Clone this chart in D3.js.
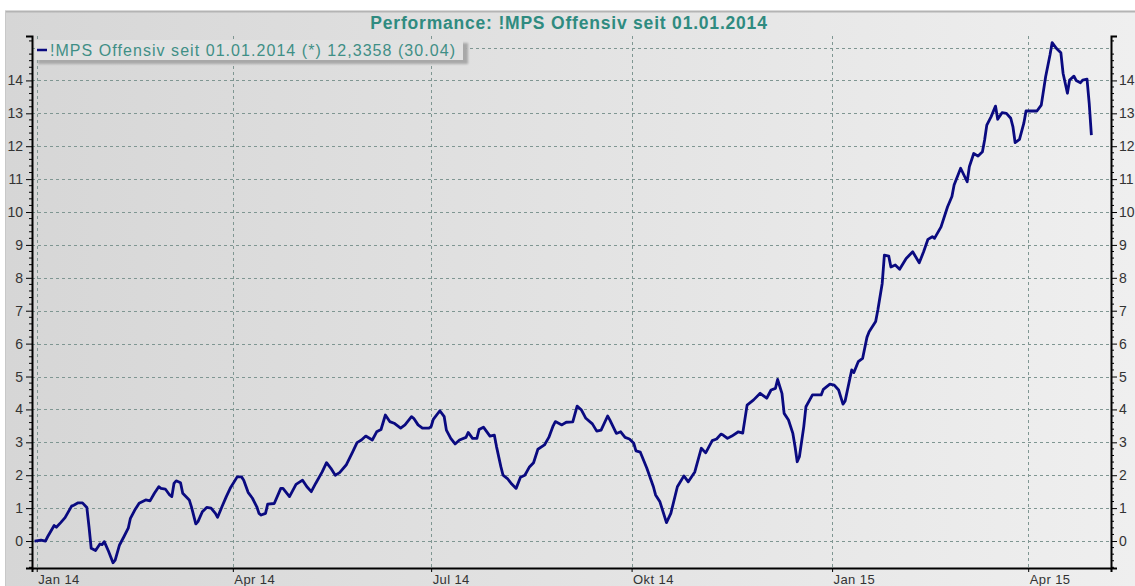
<!DOCTYPE html>
<html>
<head>
<meta charset="utf-8">
<script src="https://cdn.jsdelivr.net/npm/d3@7"></script>
<style>
  body { margin: 0; background: #fff; }
  svg { display: block; font-family: Arial, "Liberation Sans", sans-serif; }
</style>
</head>
<body>
<svg id="chart" width="1135" height="586"></svg>
<script>
// performance series (in %) since 01.01.2014
var dates = [
  '2013-12-31','2014-01-03','2014-01-05','2014-01-06','2014-01-09','2014-01-10','2014-01-12','2014-01-14',
  '2014-01-17','2014-01-18','2014-01-20','2014-01-22','2014-01-24','2014-01-25','2014-01-26','2014-01-28',
  '2014-01-30','2014-01-31','2014-02-01','2014-02-03','2014-02-05','2014-02-06','2014-02-08','2014-02-10',
  '2014-02-12','2014-02-13','2014-02-15','2014-02-17','2014-02-20','2014-02-22','2014-02-24','2014-02-26',
  '2014-02-27','2014-03-01','2014-03-03','2014-03-04','2014-03-05','2014-03-06','2014-03-08','2014-03-09',
  '2014-03-12','2014-03-13','2014-03-15','2014-03-16','2014-03-18','2014-03-20','2014-03-22','2014-03-24',
  '2014-03-25','2014-03-27','2014-03-29','2014-03-31','2014-04-03','2014-04-05','2014-04-06','2014-04-08',
  '2014-04-10','2014-04-12','2014-04-13','2014-04-14','2014-04-16','2014-04-17','2014-04-20','2014-04-23',
  '2014-04-24','2014-04-27','2014-04-30','2014-05-03','2014-05-05','2014-05-07','2014-05-09','2014-05-12',
  '2014-05-14','2014-05-16','2014-05-18','2014-05-20','2014-05-23','2014-05-26','2014-05-28','2014-05-30',
  '2014-06-01','2014-06-04','2014-06-06','2014-06-08','2014-06-10','2014-06-12','2014-06-14','2014-06-17',
  '2014-06-19','2014-06-22','2014-06-23','2014-06-25','2014-06-27','2014-06-30','2014-07-01','2014-07-02',
  '2014-07-05','2014-07-07','2014-07-08','2014-07-10','2014-07-12','2014-07-14','2014-07-17','2014-07-18',
  '2014-07-20','2014-07-22','2014-07-23','2014-07-25','2014-07-26','2014-07-28','2014-07-30','2014-07-31',
  '2014-08-02','2014-08-03','2014-08-05','2014-08-07','2014-08-09','2014-08-11','2014-08-13','2014-08-15',
  '2014-08-17','2014-08-19','2014-08-22','2014-08-24','2014-08-26','2014-08-27','2014-08-30','2014-09-01',
  '2014-09-04','2014-09-06','2014-09-08','2014-09-10','2014-09-13','2014-09-15','2014-09-17','2014-09-20',
  '2014-09-21','2014-09-24','2014-09-26','2014-09-28','2014-09-30','2014-10-02','2014-10-03','2014-10-05',
  '2014-10-08','2014-10-11','2014-10-12','2014-10-14','2014-10-17','2014-10-19','2014-10-22','2014-10-25',
  '2014-10-27','2014-10-30','2014-11-02','2014-11-04','2014-11-07','2014-11-09','2014-11-11','2014-11-12',
  '2014-11-14','2014-11-16','2014-11-19','2014-11-21','2014-11-23','2014-11-26','2014-11-29','2014-12-02',
  '2014-12-04','2014-12-06','2014-12-07','2014-12-09','2014-12-10','2014-12-12','2014-12-14','2014-12-15',
  '2014-12-16','2014-12-17','2014-12-19','2014-12-20','2014-12-23','2014-12-27','2014-12-28','2014-12-31',
  '2015-01-02','2015-01-04','2015-01-06','2015-01-07','2015-01-10','2015-01-11','2015-01-13','2015-01-15',
  '2015-01-17','2015-01-18','2015-01-21','2015-01-22','2015-01-24','2015-01-25','2015-01-27','2015-01-28',
  '2015-01-30','2015-02-01','2015-02-04','2015-02-07','2015-02-10','2015-02-12','2015-02-14','2015-02-16',
  '2015-02-17','2015-02-20','2015-02-23','2015-02-25','2015-02-26','2015-03-01','2015-03-04','2015-03-05',
  '2015-03-07','2015-03-09','2015-03-11','2015-03-12','2015-03-13','2015-03-15','2015-03-17','2015-03-18',
  '2015-03-20','2015-03-22','2015-03-24','2015-03-25','2015-03-26','2015-03-28','2015-03-30','2015-03-31',
  '2015-04-03','2015-04-05','2015-04-07','2015-04-09','2015-04-11','2015-04-12','2015-04-14','2015-04-16',
  '2015-04-17','2015-04-19','2015-04-20','2015-04-22','2015-04-23','2015-04-25','2015-04-26','2015-04-28',
  '2015-04-29','2015-04-30'
]
var values = [
  0.00, 0.03, 0.00, 0.13, 0.47, 0.42, 0.56, 0.71,
  1.06, 1.09, 1.16, 1.16, 1.02, 0.43, -0.22, -0.29,
  -0.09, -0.11, -0.02, -0.32, -0.66, -0.58, -0.12, 0.13,
  0.39, 0.69, 0.94, 1.15, 1.25, 1.22, 1.45, 1.65,
  1.60, 1.58, 1.40, 1.35, 1.75, 1.83, 1.77, 1.45,
  1.25, 1.04, 0.52, 0.59, 0.89, 1.02, 1.00, 0.84,
  0.72, 1.04, 1.35, 1.63, 1.95, 1.95, 1.85, 1.48,
  1.30, 1.04, 0.84, 0.79, 0.84, 1.12, 1.14, 1.60,
  1.60, 1.35, 1.72, 1.85, 1.65, 1.50, 1.75, 2.10,
  2.38, 2.21, 2.00, 2.08, 2.31, 2.71, 2.99, 3.07,
  3.19, 3.07, 3.32, 3.39, 3.83, 3.63, 3.58, 3.43,
  3.53, 3.78, 3.73, 3.53, 3.43, 3.43, 3.48, 3.70,
  3.96, 3.78, 3.37, 3.12, 2.95, 3.07, 3.15, 3.30,
  3.12, 3.12, 3.39, 3.46, 3.37, 3.19, 3.22, 2.87,
  2.26, 2.00, 1.90, 1.73, 1.60, 1.94, 2.00, 2.24,
  2.38, 2.79, 2.92, 3.15, 3.50, 3.63, 3.53, 3.61,
  3.62, 4.10, 3.98, 3.73, 3.56, 3.34, 3.37, 3.80,
  3.68, 3.27, 3.32, 3.15, 3.10, 2.97, 2.74, 2.70,
  2.21, 1.65, 1.40, 1.19, 0.56, 0.84, 1.65, 1.98,
  1.80, 2.10, 2.82, 2.68, 3.05, 3.10, 3.25, 3.22,
  3.12, 3.19, 3.32, 3.28, 4.13, 4.29, 4.49, 4.34,
  4.59, 4.64, 4.91, 4.49, 3.88, 3.68, 3.27, 2.87,
  2.41, 2.56, 3.47, 4.08, 4.44, 4.44, 4.61, 4.77,
  4.74, 4.59, 4.16, 4.26, 5.20, 5.12, 5.45, 5.55,
  6.19, 6.36, 6.67, 7.02, 7.83, 8.69, 8.66, 8.33,
  8.39, 8.26, 8.59, 8.79, 8.46, 8.79, 9.17, 9.25,
  9.20, 9.55, 10.16, 10.47, 10.82, 11.33, 10.92, 11.38,
  11.78, 11.70, 11.83, 12.19, 12.64, 12.90, 13.22, 12.82,
  13.02, 13.00, 12.85, 12.59, 12.11, 12.21, 12.70, 13.07,
  13.07, 13.07, 13.25, 14.11, 14.77, 15.15, 14.97, 14.84,
  14.22, 13.61, 14.01, 14.13, 14.00, 13.93, 14.01, 14.04,
  13.30, 12.34
]
var xTickDates = ['2014-01-01', '2014-04-01', '2014-07-01', '2014-10-01', '2015-01-01', '2015-04-01']
var xTickLabels = ['Jan 14', 'Apr 14', 'Jul 14', 'Okt 14', 'Jan 15', 'Apr 15']
var yTicks = [0, 1, 2, 3, 4, 5, 6, 7, 8, 9, 10, 11, 12, 13, 14]
var yGrid = [0, 1, 2, 3, 4, 5, 6, 7, 8, 9, 10, 11, 12, 13, 14, 15]
var titleText = 'Performance: !MPS Offensiv seit 01.01.2014'
var legendText = '!MPS Offensiv seit 01.01.2014 (*) 12,3358 (30.04)'

var parse = d3.utcParse('%Y-%m-%d')
var data = dates.map(function(d, i) {
  return { date: parse(d), value: values[i] }
})

const svg = d3.select('#chart')
const W = 1135
const H = 586
const margin = { top: 36, right: 24, bottom: 18, left: 32 }
const width = W - margin.left - margin.right
const height = H - margin.top - margin.bottom
const gridColor = '#7f9692'

// background gradient
var defs = svg.append('defs')
var grad = defs
  .append('linearGradient')
  .attr('id', 'bg')
  .attr('x1', '0%')
  .attr('x2', '100%')
grad.append('stop').attr('offset', '0%').attr('stop-color', '#d6d6d6')
grad.append('stop').attr('offset', '100%').attr('stop-color', '#efefef')

var shadow = defs
  .append('filter')
  .attr('id', 'blur')
  .attr('x', '-5%')
  .attr('y', '-30%')
  .attr('width', '110%')
  .attr('height', '160%')
shadow.append('feGaussianBlur').attr('stdDeviation', 1.2)

svg
  .append('rect')
  .attr('x', 5)
  .attr('y', 11)
  .attr('width', W - 5)
  .attr('height', H - 11)
  .attr('fill', 'url(#bg)')
svg
  .append('line')
  .attr('x1', 5)
  .attr('x2', W)
  .attr('y1', 11.5)
  .attr('y2', 11.5)
  .attr('stroke', '#b4b4b4')
  .attr('stroke-width', 2)
svg
  .append('line')
  .attr('x1', 5.5)
  .attr('x2', 5.5)
  .attr('y1', 11)
  .attr('y2', H)
  .attr('stroke', '#c8c8c8')
  .attr('stroke-width', 1)

// title
svg
  .append('text')
  .attr('x', 569)
  .attr('y', 29)
  .attr('text-anchor', 'middle')
  .attr('font-size', 17.5)
  .attr('font-weight', 'bold')
  .attr('letter-spacing', 0.8)
  .attr('fill', '#2f8b80')
  .text(titleText)

const chart = svg
  .append('g')
  .attr('transform', `translate(${margin.left}, ${margin.top})`)

const xScale = d3
  .scaleTime()
  .domain([new Date(Date.UTC(2013, 11, 29, 20)), new Date(Date.UTC(2015, 4, 9))])
  .range([0, width])

const yScale = d3
  .scaleLinear()
  .domain([-0.82, 15.35])
  .range([height, 0])

// horizontal grid
chart
  .append('g')
  .selectAll('line')
  .data(yGrid)
  .enter()
  .append('line')
  .attr('x1', 0)
  .attr('x2', width)
  .attr('y1', d => Math.round(yScale(d)) + 0.5)
  .attr('y2', d => Math.round(yScale(d)) + 0.5)
  .attr('stroke', gridColor)
  .attr('stroke-dasharray', '3,3')

// vertical grid
chart
  .append('g')
  .selectAll('line')
  .data(xTickDates)
  .enter()
  .append('line')
  .attr('x1', d => Math.round(xScale(parse(d))) + 0.5)
  .attr('x2', d => Math.round(xScale(parse(d))) + 0.5)
  .attr('y1', 0)
  .attr('y2', height)
  .attr('stroke', gridColor)
  .attr('stroke-dasharray', '3,3')

// minor ticks on y axes
var minor = d3.range(-0.8, 15.3, 0.2).filter(function(v) {
  return Math.abs(v - Math.round(v)) > 0.01
})

// left axis
chart
  .append('g')
  .attr('class', 'yleft')
  .call(
    d3
      .axisLeft(yScale)
      .tickValues(yTicks)
      .tickSize(6)
      .tickPadding(3)
      .tickFormat(d3.format('d'))
  )
chart
  .append('g')
  .selectAll('line')
  .data(minor)
  .enter()
  .append('line')
  .attr('x1', -3)
  .attr('x2', 0)
  .attr('y1', d => yScale(d))
  .attr('y2', d => yScale(d))
  .attr('stroke', '#000')

// right axis
chart
  .append('g')
  .attr('class', 'yright')
  .attr('transform', `translate(${width}, 0)`)
  .call(
    d3
      .axisRight(yScale)
      .tickValues(yTicks)
      .tickSize(6)
      .tickPadding(2)
      .tickFormat(d3.format('d'))
  )
chart
  .append('g')
  .selectAll('line')
  .data(minor)
  .enter()
  .append('line')
  .attr('x1', width)
  .attr('x2', width + 3)
  .attr('y1', d => yScale(d))
  .attr('y2', d => yScale(d))
  .attr('stroke', '#000')

// bottom axis, labels start at the tick
chart
  .append('g')
  .attr('class', 'xaxis')
  .attr('transform', `translate(0, ${height})`)
  .call(
    d3
      .axisBottom(xScale)
      .tickValues(xTickDates.map(parse))
      .tickSize(4)
      .tickPadding(3)
      .tickFormat((d, i) => xTickLabels[i])
  )

svg.selectAll('.yleft path, .yright path, .xaxis path')
  .attr('stroke', '#000')
  .attr('stroke-width', 2)
svg.selectAll('.tick text')
  .attr('font-size', 14)
  .attr('fill', '#333')
  .attr('font-family', 'Arial, "Liberation Sans", sans-serif')
svg.selectAll('.xaxis .tick text')
  .attr('font-size', 13)
  .attr('letter-spacing', 0.4)
  .attr('text-anchor', 'start')
  .attr('x', 1)

// the line
var line = d3
  .line()
  .x(d => xScale(d.date))
  .y(d => yScale(d.value))

chart
  .append('path')
  .datum(data)
  .attr('fill', 'none')
  .attr('stroke', '#0a0a80')
  .attr('stroke-width', 2.8)
  .attr('stroke-linejoin', 'round')
  .attr('d', line)

// legend
var legend = svg.append('g').attr('transform', 'translate(35, 40)')
legend
  .append('rect')
  .attr('x', 3)
  .attr('y', 3)
  .attr('width', 430)
  .attr('height', 21)
  .attr('fill', '#a8a8a8')
  .attr('filter', 'url(#blur)')
legend
  .append('rect')
  .attr('width', 428)
  .attr('height', 20)
  .attr('fill', '#e1e1e1')
legend
  .append('line')
  .attr('x1', 2)
  .attr('x2', 12)
  .attr('y1', 10)
  .attr('y2', 10)
  .attr('stroke', '#0a0a80')
  .attr('stroke-width', 2.5)
legend
  .append('text')
  .attr('x', 15)
  .attr('y', 15.5)
  .attr('font-size', 16)
  .attr('letter-spacing', 1.05)
  .attr('fill', '#3f8f86')
  .text(legendText)
</script>
</body>
</html>
